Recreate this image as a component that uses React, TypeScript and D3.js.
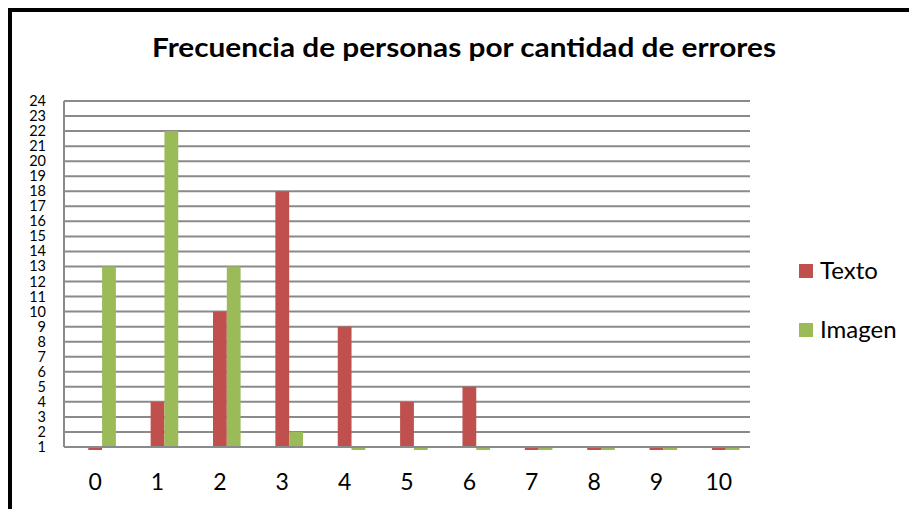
import React, { useRef, useEffect } from 'react';
import * as d3 from 'd3';

const categories = ['0', '1', '2', '3', '4', '5', '6', '7', '8', '9', '10'];
const texto = [0, 4, 10, 18, 9, 4, 5, 0, 0, 0, 0];
const imagen = [13, 22, 13, 2, 0, 0, 0, 0, 0, 0, 0];
const yTicks = d3.range(1, 25);
const seriesNames = ['Texto', 'Imagen'];
const colors = ['#c0504d', '#9bbb59'];

const App = () => {
    const svgRef = useRef(null);

    useEffect(() => {
        const svgWidth = 909;
        const svgHeight = 509;
        const margin = { top: 101, right: 159, bottom: 62, left: 64 };
        const width = svgWidth - margin.left - margin.right;
        const height = svgHeight - margin.top - margin.bottom;

        const svg = d3.select(svgRef.current)
            .attr('width', svgWidth)
            .attr('height', svgHeight);
        svg.selectAll('*').remove();

        svg.append('rect')
            .attr('width', svgWidth).attr('height', svgHeight)
            .attr('fill', '#fff');

        // outer frame
        svg.append('rect')
            .attr('x', 10).attr('y', 10)
            .attr('width', 1000).attr('height', 700)
            .attr('fill', 'none')
            .attr('stroke', '#000')
            .attr('stroke-width', 4);

        svg.append('text')
            .attr('x', 464)
            .attr('y', 57)
            .attr('text-anchor', 'middle')
            .attr('font-family', 'Lato')
            .attr('font-weight', 'bold')
            .attr('font-size', 27)
            .attr('textLength', 624)
            .attr('lengthAdjust', 'spacingAndGlyphs')
            .text('Frecuencia de personas por cantidad de errores');

        const g = svg.append('g').attr('transform', `translate(${margin.left}, ${margin.top})`);

        const xScale = d3.scaleBand().domain(categories).range([0, width]);
        const yScale = d3.scaleLinear().domain([1, 24]).range([height, 0]);

        // gridlines
        g.selectAll('.grid')
            .data(yTicks)
            .enter()
            .append('line')
            .attr('x1', 0).attr('x2', width)
            .attr('y1', (d) => yScale(d)).attr('y2', (d) => yScale(d))
            .attr('stroke', '#8a8a8a')
            .attr('stroke-width', 2);

        g.append('line')
            .attr('x1', 0).attr('x2', 0)
            .attr('y1', 0).attr('y2', height)
            .attr('stroke', '#8a8a8a')
            .attr('stroke-width', 2);

        g.selectAll('.ylabel')
            .data(yTicks)
            .enter()
            .append('text')
            .attr('x', -18)
            .attr('y', (d) => yScale(d) + 5)
            .attr('text-anchor', 'end')
            .attr('font-family', 'Lato')
            .attr('font-size', 14.5)
            .text((d) => d);

        g.selectAll('.xlabel')
            .data(categories)
            .enter()
            .append('text')
            .attr('x', (d) => xScale(d) + xScale.bandwidth() / 2)
            .attr('y', 389)
            .attr('text-anchor', 'middle')
            .attr('font-family', 'Lato')
            .attr('font-size', 23)
            .text((d) => d);

        const bw = 13.8;
        const bottomClip = yScale(1) + 3; // plot area ends just under the axis

        [texto, imagen].forEach((values, i) => {
            g.selectAll('.bar' + i)
                .data(values)
                .enter()
                .append('rect')
                .attr('x', (d, j) => xScale(categories[j]) + xScale.bandwidth() / 2 + (i - 0.5) * bw)
                .attr('y', (d) => Math.min(yScale(d), yScale(1)))
                .attr('width', bw)
                .attr('height', (d) => d >= 1 ? yScale(1) - yScale(d) : Math.min(yScale(d), bottomClip) - yScale(1))
                .attr('fill', colors[i]);
        });

        // bottom axis line over the bars
        g.append('line')
            .attr('x1', 0).attr('x2', width)
            .attr('y1', height).attr('y2', height)
            .attr('stroke', '#8a8a8a')
            .attr('stroke-width', 2);

        const legendG = svg.append('g').attr('transform', 'translate(799, 264)');
        seriesNames.forEach((name, i) => {
            legendG.append('rect')
                .attr('x', 0).attr('y', i * 59)
                .attr('width', 14).attr('height', 14)
                .attr('fill', colors[i]);
            legendG.append('text')
                .attr('x', 21).attr('y', i * 59 + 15)
                .attr('font-family', 'Lato')
                .attr('font-size', 24)
                .text(name);
        });
    }, []);

    return (
        <div>
            <svg ref={svgRef} style={{ position: 'absolute', left: 0, top: 0 }} />
        </div>
    );
};

export default App;
